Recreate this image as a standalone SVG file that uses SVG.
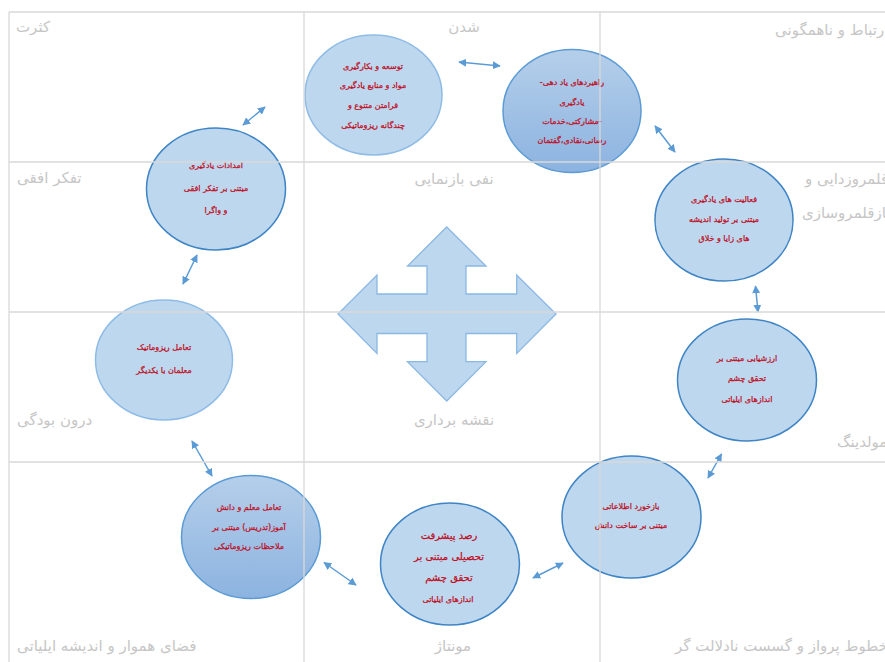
<svg xmlns="http://www.w3.org/2000/svg" width="885" height="662" viewBox="0 0 885 662">
<style>
text{font-family:"DejaVu Sans",sans-serif;direction:rtl}
.lb{font-size:15px;fill:#c6c6c6;text-anchor:end}
.lc{font-size:15px;fill:#c6c6c6;text-anchor:middle}
.nt{font-size:8px;fill:#c00d1e;stroke:#c00d1e;stroke-width:.25;text-anchor:middle}
.b{font-size:10px}
.e{fill:#bdd7ee;stroke:#3f84c4;stroke-width:1.5}
.l{stroke:#8fbce6}
.g{fill:url(#gr);stroke:#5b9bd5;stroke-width:1.5}
.c{fill:none;stroke:#5b9bd5;stroke-width:1.5;marker-start:url(#ah);marker-end:url(#ah)}
.gl{stroke:#d9d9d9;stroke-width:1.3;fill:none}
</style>
<defs>
<linearGradient id="gr" x1="0" y1="0" x2="0" y2="1"><stop offset="0" stop-color="#b5cfea"/><stop offset="1" stop-color="#8cb3e0"/></linearGradient>
<marker id="ah" viewBox="0 0 10 10" refX="9" refY="5" markerWidth="8" markerHeight="8" markerUnits="userSpaceOnUse" orient="auto-start-reverse"><path d="M0 0L10 5L0 10Z" fill="#5b9bd5"/></marker>
</defs>
<rect width="885" height="662" fill="#fff"/>
<g id="cross"><path d="M446.700 227L486 266H466V294H516.700V275L556 314L516.700 353.500V333.500H466V361.700H486L446.700 401L407.500 361.700H427V333.500H377V353.500L338 314L377 275V294H427V266H407.500Z" fill="#bdd7ee" stroke="#8ab8e4" stroke-width="1.3"/></g>
<g id="connectors">
<path class="c" d="M459 62L500 66"/>
<path class="c" d="M655 126L675 152"/>
<path class="c" d="M755.500 286L758 312"/>
<path class="c" d="M721.500 454L708 478"/>
<path class="c" d="M563 563L533 578"/>
<path class="c" d="M324 562.500L356 585"/>
<path class="c" d="M192 441L212 476"/>
<path class="c" d="M197 255L183 284"/>
<path class="c" d="M265 107L243 125"/>
</g>
<g id="n1"><ellipse class="e l" cx="373.500" cy="95" rx="68.500" ry="60"/>
<text class="nt" x="373" y="69">توسعه و بکارگیری</text><text class="nt" x="373" y="88">مواد و منابع یادگیری</text><text class="nt" x="373" y="108">فرامتن متنوع و</text><text class="nt" x="373" y="128">چندگانه ریزوماتیکی</text></g>
<g id="n2"><ellipse class="g" cx="572" cy="111" rx="69" ry="61.500"/>
<text class="nt" x="572" y="85">راهبردهای یاد دهی-</text><text class="nt" x="572" y="105">یادگیری</text><text class="nt" x="572" y="124">-مشارکتی،خدمات</text><text class="nt" x="572" y="143">رسانی،نقادی،گفتمان</text></g>
<g id="n3"><ellipse class="e" cx="724" cy="220" rx="69" ry="61"/>
<text class="nt" x="724" y="202">فعالیت های یادگیری</text><text class="nt" x="724" y="222">مبتنی بر تولید اندیشه</text><text class="nt" x="724" y="241">های زایا و خلاق</text></g>
<g id="n4"><ellipse class="e" cx="747" cy="380" rx="69.500" ry="61"/>
<text class="nt" x="747" y="361">ارزشیابی مبتنی بر</text><text class="nt" x="747" y="381">تحقق چشم</text><text class="nt" x="747" y="402">اندازهای ایلیاتی</text></g>
<g id="n5"><ellipse class="e" cx="631.500" cy="517" rx="69.500" ry="61"/>
<text class="nt" x="631" y="509">بازخورد اطلاعاتی</text><text class="nt" x="631" y="528">مبتنی بر ساخت دانش</text></g>
<g id="n6"><ellipse class="e" cx="450" cy="564" rx="69.500" ry="61"/>
<text class="nt b" x="449" y="539">رصد پیشرفت</text><text class="nt b" x="449" y="560">تحصیلی مبتنی بر</text><text class="nt b" x="449" y="581">تحقق چشم</text><text class="nt" x="448" y="602">اندازهای ایلیاتی</text></g>
<g id="n7"><ellipse class="g" cx="251" cy="537" rx="69.500" ry="61.500"/>
<text class="nt" x="249" y="510">تعامل معلم و دانش</text><text class="nt" x="249" y="530">آموز(تدریس) مبتنی بر</text><text class="nt" x="249" y="549">ملاحظات ریزوماتیکی</text></g>
<g id="n8"><ellipse class="e l" cx="164" cy="360" rx="68.500" ry="60"/>
<text class="nt" x="164" y="350">تعامل ریزوماتیک</text><text class="nt" x="164" y="373">معلمان با یکدیگر</text></g>
<g id="n9"><ellipse class="e" cx="216" cy="189" rx="69.500" ry="61"/>
<text class="nt" x="216" y="168">امدادات یادگیری</text><text class="nt" x="216" y="191">مبتنی بر تفکر افقی</text><text class="nt" x="216" y="213">و واگرا</text></g>
<g id="grid">
<path class="gl" d="M9 12H885M9 162H885M9 312H885M9 462H885M9 12V662M304 12V662M600 12V662"/>
</g>
<g id="labels">
<text class="lb" x="16" y="32">کثرت</text>
<text class="lc" x="464" y="32">شدن</text>
<text class="lb" x="775" y="35">ارتباط و ناهمگونی</text>
<text class="lb" x="17" y="183">تفکر افقی</text>
<text class="lc" x="454" y="184">نفی بازنمایی</text>
<text class="lb" x="805" y="184">قلمروزدایی و</text>
<text class="lb" x="802" y="218">بازقلمروسازی</text>
<text class="lb" x="17" y="425">درون بودگی</text>
<text class="lc" x="454" y="425">نقشه برداری</text>
<text class="lb" x="837" y="447">مولدینگ</text>
<text class="lb" x="17" y="651">فضای هموار و اندیشه ایلیاتی</text>
<text class="lc" x="453" y="651">مونتاژ</text>
<text class="lb" x="675" y="651">خطوط پرواز و گسست نادلالت گر</text>
</g>
</svg>
